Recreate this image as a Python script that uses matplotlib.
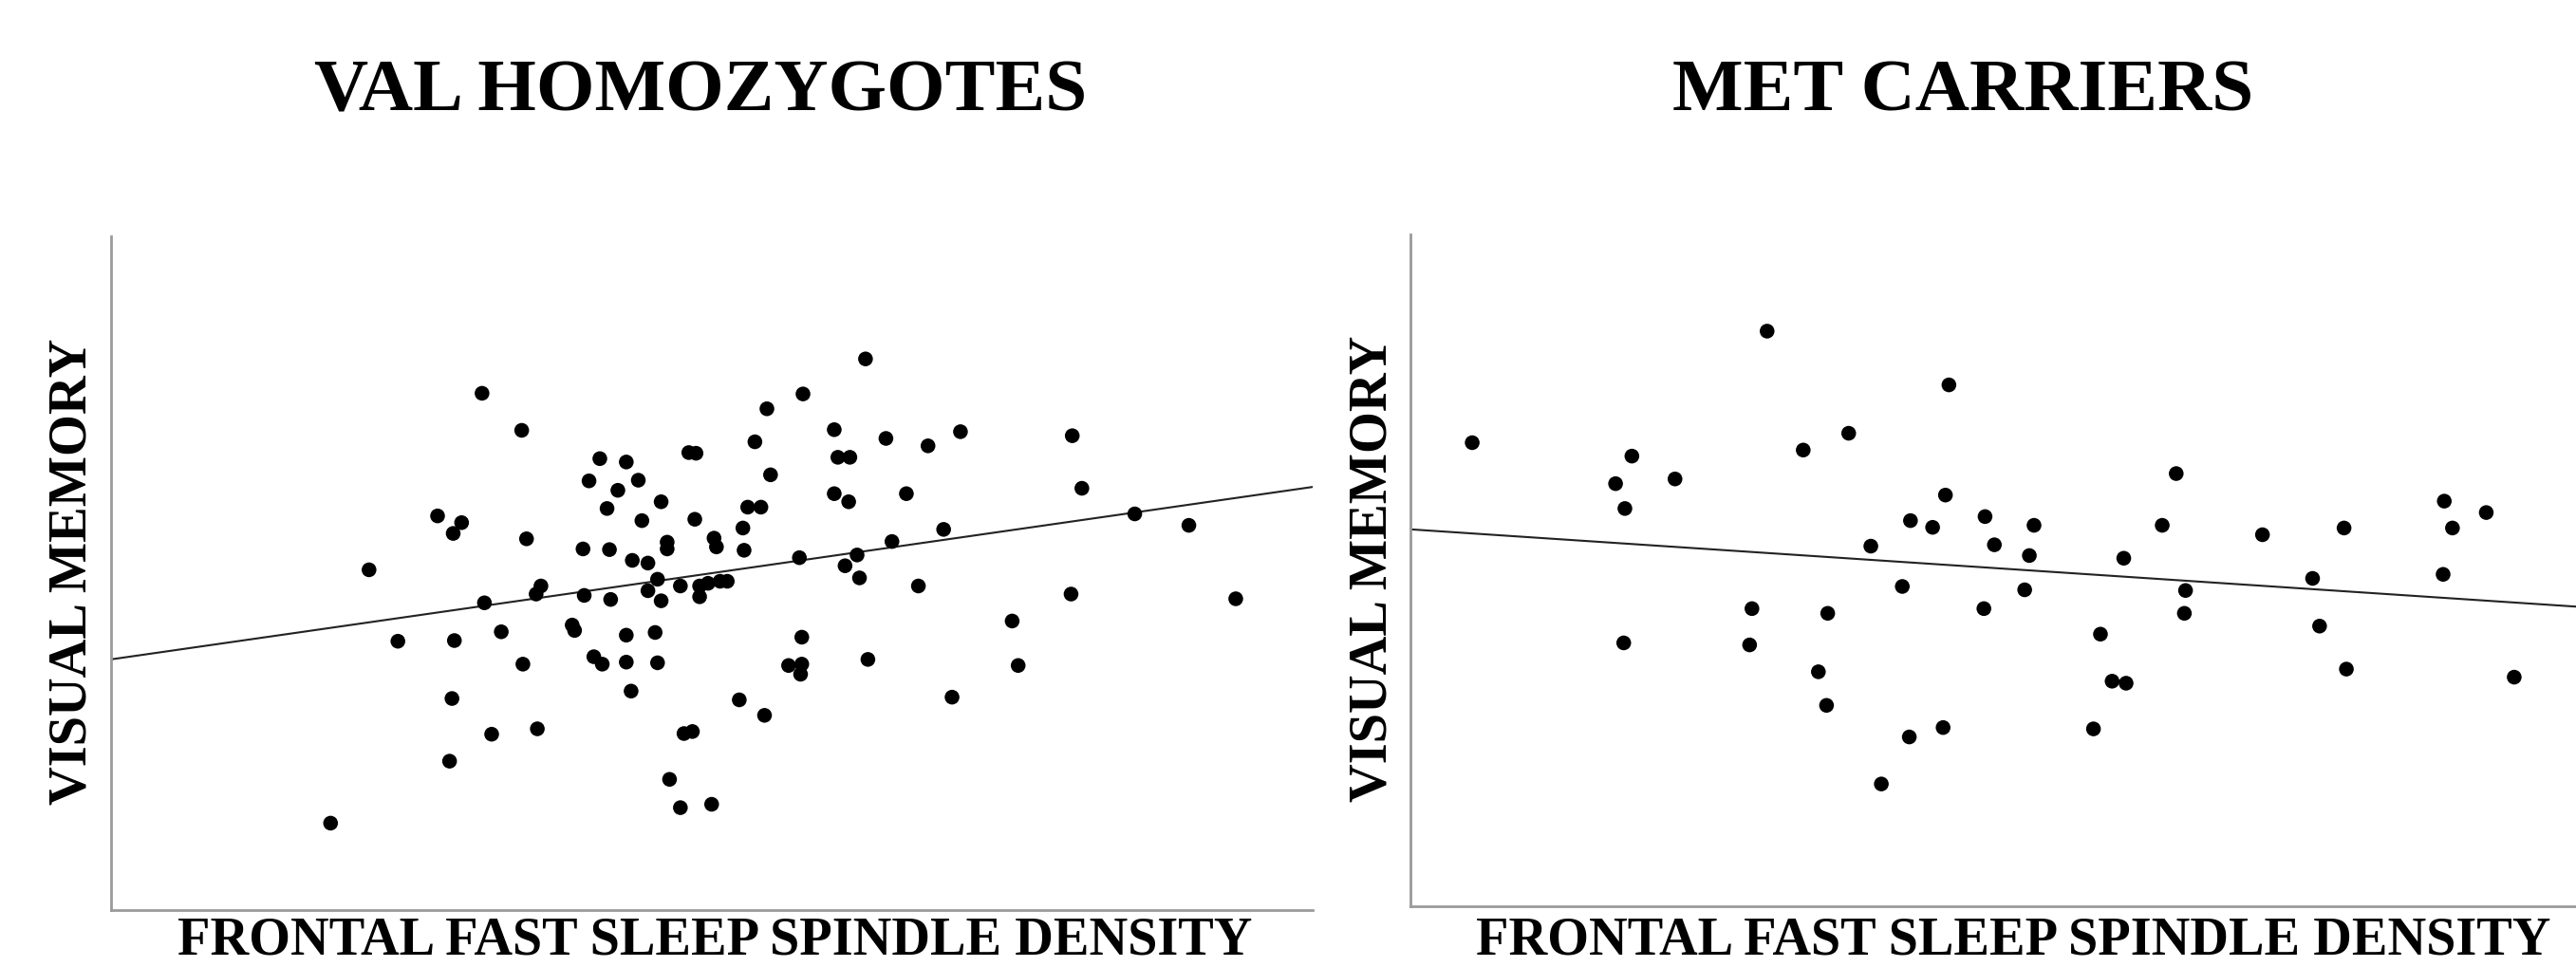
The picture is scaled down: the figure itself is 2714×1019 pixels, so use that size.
import matplotlib.pyplot as plt

# axes have no ticks, values are on a 0-100 scale over each plot area
val_x = [30.9, 34.2, 40.7, 42.9, 48.1, 48.7, 53.6, 39.8, 43.9, 42.2,
         45.8, 41.3, 53.0, 27.2, 29.2, 28.5, 44.2, 48.6, 52.6, 34.6,
         39.3, 41.5, 46.3, 46.3, 50.2, 50.4, 52.7, 21.5, 43.4, 44.7,
         45.5, 47.4, 49.0, 49.7, 50.7, 51.3, 35.8, 35.4, 39.4, 41.6,
         44.7, 45.8, 49.0, 31.1, 23.9, 28.6, 32.5, 38.4, 38.6, 42.9,
         45.3, 40.2, 40.9, 34.3, 42.9, 45.5, 43.3, 28.4, 52.3, 31.7,
         35.5, 47.7, 48.4, 28.2, 46.5, 47.4, 50.0, 18.3,
         54.1, 54.4, 62.8, 57.6, 54.6, 60.2, 64.5, 70.7, 80.0, 68.0,
         60.5, 61.5, 54.9, 80.8, 60.2, 61.4, 66.2, 85.2, 89.7, 69.3,
         65.0, 57.3, 62.1, 61.1, 62.3, 67.2, 79.9, 93.6, 75.0, 57.5,
         56.4, 57.5, 57.4, 63.0, 75.5, 70.0]
val_y = [76.7, 71.2, 67.0, 66.5, 67.9, 67.8, 69.5, 63.7, 63.8, 62.3,
         60.6, 59.6, 59.8, 58.5, 57.5, 55.9, 57.8, 58.0, 56.7, 55.1,
         53.6, 53.5, 54.6, 53.6, 55.2, 53.9, 53.4, 50.5, 51.9, 51.5,
         49.1, 48.1, 48.1, 48.5, 48.8, 48.8, 48.1, 46.9, 46.7, 46.1,
         47.4, 45.9, 46.5, 45.6, 39.9, 40.0, 41.3, 42.3, 41.5, 40.8,
         41.2, 37.6, 36.5, 36.5, 36.8, 36.7, 32.5, 31.4, 31.2, 26.1,
         26.9, 26.2, 26.5, 22.1, 19.4, 15.2, 15.7, 12.9,
         59.8, 28.9, 81.8, 76.6, 74.4, 71.3, 70.0, 71.0, 70.4, 68.9,
         67.2, 67.2, 64.6, 62.6, 61.8, 60.6, 61.8, 58.8, 57.1, 56.5,
         54.7, 52.3, 52.7, 51.1, 49.3, 48.1, 46.9, 46.2, 42.9, 40.5,
         36.3, 36.5, 35.0, 37.2, 36.3, 31.6]
val_fit_x = [0, 100]
val_fit_y = [37.2, 62.8]

met_x = [30.6, 46.2, 5.3, 37.6, 33.7, 19.0, 17.6, 22.7, 18.4, 45.9,
         42.9, 44.8, 49.3, 50.1, 39.5, 42.2, 49.2, 29.3, 35.8, 18.3,
         29.1, 35.0, 35.7, 45.7, 42.8, 40.4,
         65.7, 53.5, 53.1, 64.5, 61.2, 73.1, 80.1, 88.7, 89.4, 92.3,
         88.6, 77.4, 52.7, 66.5, 66.4, 59.2, 78.0, 80.3, 60.2, 61.4,
         94.7, 58.6]
met_y = [85.6, 77.6, 69.0, 70.4, 67.9, 67.0, 62.9, 63.6, 59.2, 61.2,
         57.4, 56.4, 58.0, 53.8, 53.6, 47.6, 44.3, 44.3, 43.6, 39.2,
         38.9, 34.9, 29.9, 26.6, 25.2, 18.2,
         64.4, 56.7, 52.2, 56.7, 51.8, 55.3, 56.3, 60.3, 56.3, 58.6,
         49.4, 48.8, 47.1, 47.0, 43.6, 40.5, 41.7, 35.3, 33.5, 33.2,
         34.1, 26.4]
met_fit_x = [0, 100]
met_fit_y = [56.1, 44.6]

titles = ["VAL HOMOZYGOTES", "MET CARRIERS"]
x_label = "FRONTAL FAST SLEEP SPINDLE DENSITY"
y_label = "VISUAL MEMORY"

plt.rcParams['font.family'] = ['Liberation Serif', 'DejaVu Serif']

fig = plt.figure(figsize=(27.14, 10.19), dpi=100)
ax_val = fig.add_axes([0.04293, 0.05888, 0.46665, 0.69676])
ax_met = fig.add_axes([0.54753, 0.06281, 0.45247, 0.69480])

panels = [
    (ax_val, val_x, val_y, val_fit_x, val_fit_y, titles[0], 0.491, 1.186, 0.503, -0.0655, -0.0204),
    (ax_met, met_x, met_y, met_fit_x, met_fit_y, titles[1], 0.474, 1.184, 0.517, -0.0712, -0.0206),
]

for ax, xs, ys, fx, fy, title, tx, ty, lx, ly, yx in panels:
    ax.scatter(xs, ys, s=125, color="black", edgecolors="none", zorder=3)
    ax.plot(fx, fy, color="#222222", lw=1.5, zorder=2)
    ax.set_xlim(0, 100)
    ax.set_ylim(0, 100)
    ax.set_xticks([])
    ax.set_yticks([])
    for side in ["top", "right"]:
        ax.spines[side].set_visible(False)
    for side in ["left", "bottom"]:
        ax.spines[side].set_color("#9a9a9a")
        ax.spines[side].set_linewidth(2)

    ax.text(tx, ty, title, transform=ax.transAxes, ha="center", va="baseline",
            fontsize=57, fontweight="bold")
    ax.text(lx, ly, x_label, transform=ax.transAxes, ha="center", va="baseline",
            fontsize=40.5, fontweight="bold")
    ax.text(yx, 0.503, y_label, transform=ax.transAxes, ha="center", va="baseline",
            rotation=90, rotation_mode="anchor", fontsize=40.6, fontweight="bold")

fig.savefig("out.png", dpi=100)
